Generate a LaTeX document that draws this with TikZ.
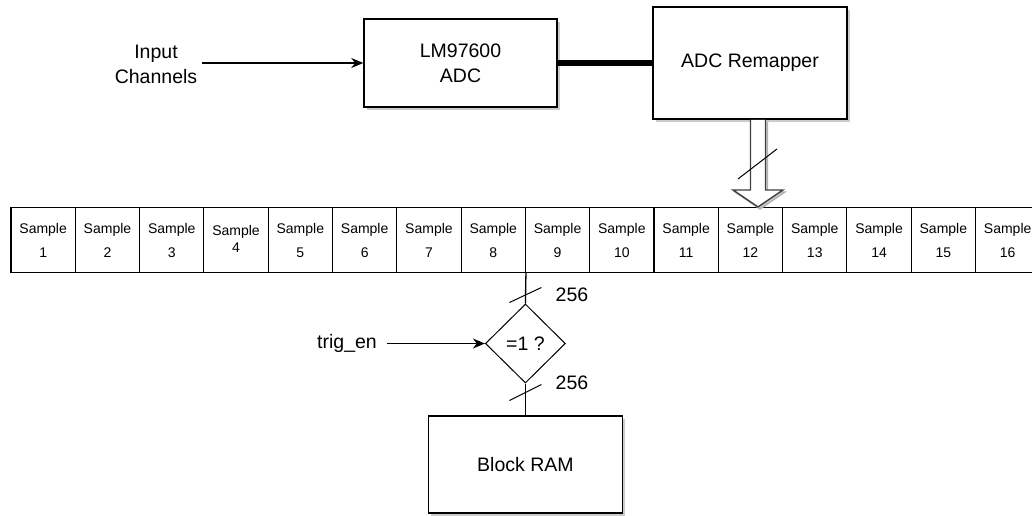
\documentclass[tikz,border=0pt]{standalone}
\usepackage{fontspec}
\setmainfont{Liberation Sans}
\usetikzlibrary{shapes.geometric,arrows.meta,shadows,calc}
\begin{document}
\begin{tikzpicture}[x=1pt,y=-1pt,
  bigtext/.style={font=\fontsize{19.5}{25}\selectfont},
  shadowed/.style={drop shadow={shadow xshift=3pt,shadow yshift=-3pt,fill=black!20,opacity=1}},
  blockbox/.style={draw=black, line width=1.5pt, fill=white, shadowed, bigtext, align=center, inner sep=0pt},
  cellbox/.style={draw=black, line width=1.1pt, fill=white, minimum width=64.3pt, minimum height=65pt, inner sep=0pt, align=center, font=\fontsize{14}{24}\selectfont},
  conn/.style={line width=1.3pt, -{Stealth[length=12pt,width=10pt]}},
  wire/.style={line width=1.3pt},
  slash/.style={line width=1pt},
  bus/.style={line width=5.5pt},
  hollow/.style={draw=black!75, line width=1.4pt, fill=white, line join=miter},
  hollowshadow/.style={draw=black!30, line width=1.4pt, fill=black!20},
  decision/.style={diamond, draw=black, line width=1pt, minimum width=80pt, minimum height=79pt, inner sep=0pt, bigtext, fill=white},
  txt/.style={bigtext, inner sep=0pt, align=center}
]
\useasboundingbox (0,0) rectangle (1032,515);

% top blocks
\node[txt] (inp) at (156,64) {Input\\Channels};
\node[blockbox, minimum width=193pt, minimum height=88pt] (adc) at (460.5,63) {LM97600\\ADC};
\node[blockbox, minimum width=194pt, minimum height=112pt] (rem) at (750,63) {ADC Remapper};

\draw[conn, shorten <=5pt] (inp.east |- adc.west) -- (adc.west);
\draw[bus] (adc.east) -- (rem.west);

% sample cells
\foreach \i in {1,2,3,5,6,7,8,9,10,11,12,13,14,15,16}{
  \node[cellbox] (c\i) at ({11+64.3*(\i-0.5)},240) {Sample\\\i};
}
\node[cellbox, font=\fontsize{14}{15}\selectfont] (c4) at ({11+64.3*3.5},240) {\raisebox{2pt}{\shortstack{Sample\\[1pt]4}}};

% hollow bus arrow
\coordinate (hs) at ($(rem.south)+(8,0)$);
\coordinate (ht) at (hs |- c12.north);
\draw[hollowshadow] ($(hs)+(-5.5,2)$) -- ($(ht)+(-5.5,-15)$) -- ($(ht)+(-23,-15)$) -- ($(ht)+(2,2)$) -- ($(ht)+(27,-15)$) -- ($(ht)+(9.5,-15)$) -- ($(hs)+(9.5,2)$);
\draw[hollow] ($(hs)+(-7.5,0)$) -- ($(ht)+(-7.5,-17)$) -- ($(ht)+(-25,-17)$) -- (ht) -- ($(ht)+(25,-17)$) -- ($(ht)+(7.5,-17)$) -- ($(hs)+(7.5,0)$);
\draw[slash] ($(ht)+(-20,-28)$) -- ($(ht)+(19,-58)$);

% decision and block RAM
\node[decision] (dec) at (525.4,343.5) {=1 ?};
\node[blockbox, minimum width=194pt, minimum height=97pt] (ram) at (525.4,464.5) {Block RAM};

\draw[wire] (c8.south east) -- (dec.north);
\draw[wire] (dec.south) -- (ram.north);
\draw[slash] ($(dec.north)+(-16,-1)$) -- ($(dec.north)+(16,-16)$);
\draw[slash] ($(dec.south)+(-16,17)$) -- ($(dec.south)+(16,1)$);
\node[txt] (w1) at (572,295) {256};
\node[txt] (w2) at (572,383) {256};

\node[txt] (trig) at (347,343.5) {trig\_en};
\draw[conn, shorten <=10pt] (trig.east |- dec.west) -- (dec.west);
\end{tikzpicture}
\end{document}
